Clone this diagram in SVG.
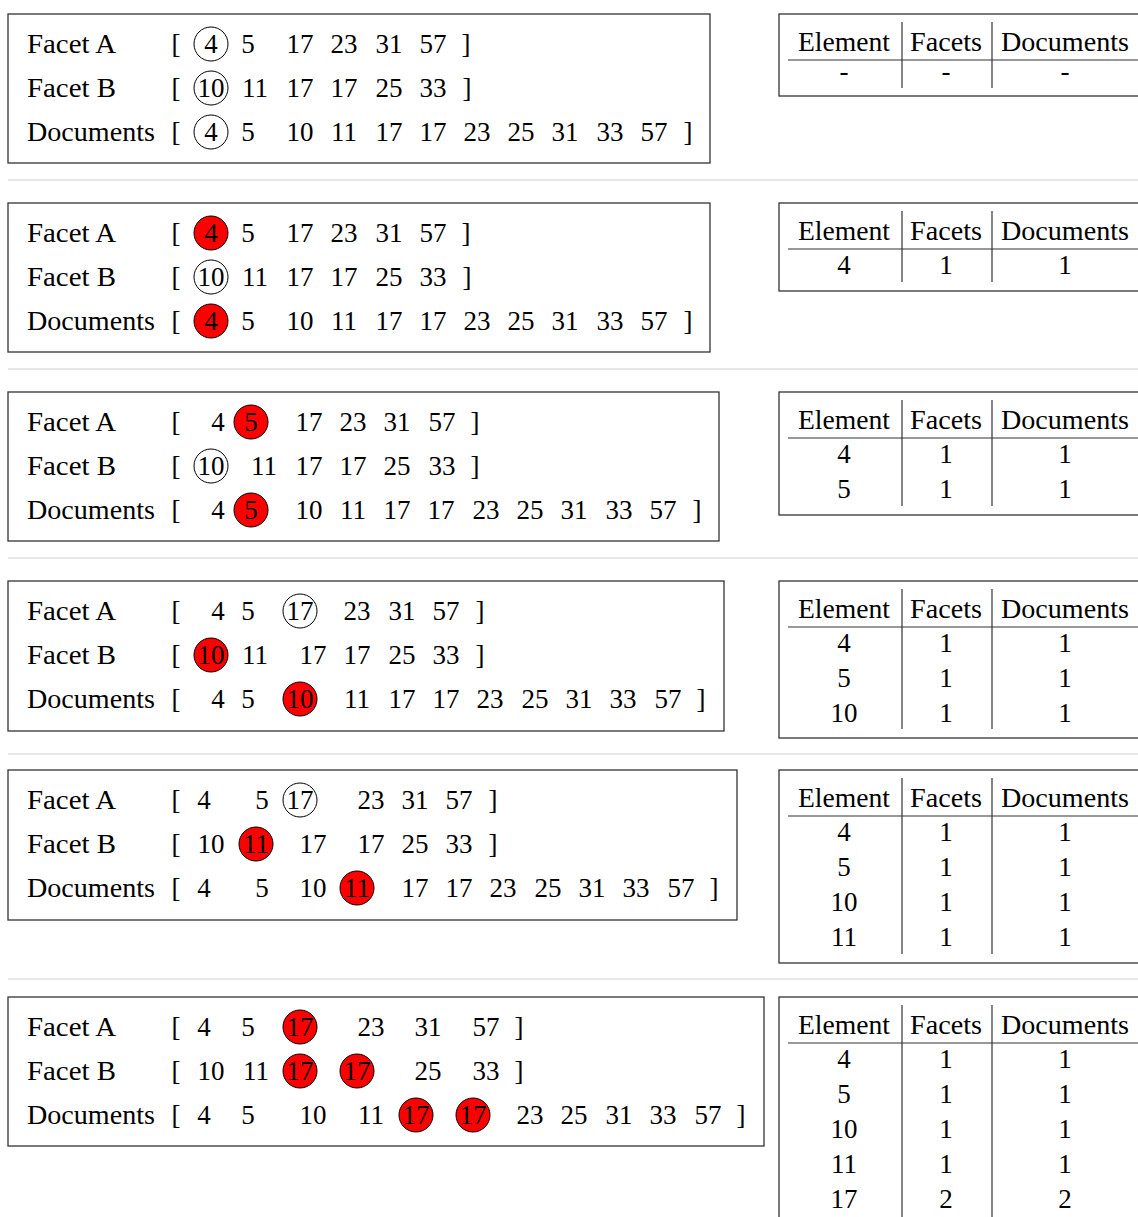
<svg xmlns="http://www.w3.org/2000/svg" width="1138" height="1217" viewBox="0 0 1138 1217">
<style>
text{font-family:"Liberation Serif","Times New Roman",serif;font-size:27px;fill:#000}
.n{text-anchor:middle}
.box{fill:none;stroke:#333;stroke-width:1.3}
.tb{fill:#fff;stroke:#333;stroke-width:1.3}
.c{fill:none;stroke:#000;stroke-width:1}
.r{fill:#f00;stroke:#000;stroke-width:1}
.sep{stroke:#d0d0d0;stroke-width:1.2}
.tl{stroke:#333;stroke-width:1.2;fill:none}
</style>
<rect width="1138" height="1217" fill="#fff"/>
<g id="separators">
<line class="sep" x1="8" y1="180" x2="1138" y2="180"/>
<line class="sep" x1="8" y1="369" x2="1138" y2="369"/>
<line class="sep" x1="8" y1="558" x2="1138" y2="558"/>
<line class="sep" x1="8" y1="754" x2="1138" y2="754"/>
<line class="sep" x1="8" y1="979" x2="1138" y2="979"/>
</g>

<!-- Panel 1 -->
<g id="panel1" transform="translate(0,14)">
<rect class="box" x="8" y="0" width="702" height="149"/>
<ellipse class="c" cx="211" cy="30" rx="17" ry="17"/>
<ellipse class="c" cx="211" cy="74" rx="17" ry="17"/>
<ellipse class="c" cx="211" cy="118" rx="17" ry="17"/>
<text x="27" y="39" textLength="89" lengthAdjust="spacingAndGlyphs">Facet A</text>
<text x="27" y="83" textLength="89" lengthAdjust="spacingAndGlyphs">Facet B</text>
<text x="27" y="127" textLength="128" lengthAdjust="spacingAndGlyphs">Documents</text>
<g class="n">
<text x="176" y="39">[</text><text x="211" y="39">4</text><text x="248" y="39">5</text><text x="300" y="39">17</text><text x="344" y="39">23</text><text x="389" y="39">31</text><text x="433" y="39">57</text><text x="466" y="39">]</text>
<text x="176" y="83">[</text><text x="211" y="83">10</text><text x="255" y="83">11</text><text x="300" y="83">17</text><text x="344" y="83">17</text><text x="389" y="83">25</text><text x="433" y="83">33</text><text x="467" y="83">]</text>
<text x="176" y="127">[</text><text x="211" y="127">4</text><text x="248" y="127">5</text><text x="300" y="127">10</text><text x="344" y="127">11</text><text x="389" y="127">17</text><text x="433" y="127">17</text><text x="477" y="127">23</text><text x="521" y="127">25</text><text x="565" y="127">31</text><text x="610" y="127">33</text><text x="654" y="127">57</text><text x="688" y="127">]</text>
</g>
</g>
<g id="table1" transform="translate(0,14)">
<rect class="tb" x="779" y="0" width="420" height="82"/>
<line class="tl" x1="788" y1="46" x2="1138" y2="46"/>
<line class="tl" x1="902" y1="8" x2="902" y2="74"/>
<line class="tl" x1="992" y1="8" x2="992" y2="74"/>
<g class="n">
<text x="844" y="37" textLength="92" lengthAdjust="spacingAndGlyphs">Element</text><text x="946" y="37" textLength="72" lengthAdjust="spacingAndGlyphs">Facets</text><text x="1065" y="37" textLength="128" lengthAdjust="spacingAndGlyphs">Documents</text>
<text x="844" y="66">-</text><text x="946" y="66">-</text><text x="1065" y="66">-</text>
</g>
</g>

<!-- Panel 2 -->
<g id="panel2" transform="translate(0,203)">
<rect class="box" x="8" y="0" width="702" height="149"/>
<ellipse class="r" cx="211" cy="30" rx="17" ry="17"/>
<ellipse class="c" cx="211" cy="74" rx="17" ry="17"/>
<ellipse class="r" cx="211" cy="118" rx="17" ry="17"/>
<text x="27" y="39" textLength="89" lengthAdjust="spacingAndGlyphs">Facet A</text>
<text x="27" y="83" textLength="89" lengthAdjust="spacingAndGlyphs">Facet B</text>
<text x="27" y="127" textLength="128" lengthAdjust="spacingAndGlyphs">Documents</text>
<g class="n">
<text x="176" y="39">[</text><text x="211" y="39">4</text><text x="248" y="39">5</text><text x="300" y="39">17</text><text x="344" y="39">23</text><text x="389" y="39">31</text><text x="433" y="39">57</text><text x="466" y="39">]</text>
<text x="176" y="83">[</text><text x="211" y="83">10</text><text x="255" y="83">11</text><text x="300" y="83">17</text><text x="344" y="83">17</text><text x="389" y="83">25</text><text x="433" y="83">33</text><text x="467" y="83">]</text>
<text x="176" y="127">[</text><text x="211" y="127">4</text><text x="248" y="127">5</text><text x="300" y="127">10</text><text x="344" y="127">11</text><text x="389" y="127">17</text><text x="433" y="127">17</text><text x="477" y="127">23</text><text x="521" y="127">25</text><text x="565" y="127">31</text><text x="610" y="127">33</text><text x="654" y="127">57</text><text x="688" y="127">]</text>
</g>
</g>
<g id="table2" transform="translate(0,203)">
<rect class="tb" x="779" y="0" width="420" height="88"/>
<line class="tl" x1="788" y1="46" x2="1138" y2="46"/>
<line class="tl" x1="902" y1="8" x2="902" y2="79"/>
<line class="tl" x1="992" y1="8" x2="992" y2="79"/>
<g class="n">
<text x="844" y="37" textLength="92" lengthAdjust="spacingAndGlyphs">Element</text><text x="946" y="37" textLength="72" lengthAdjust="spacingAndGlyphs">Facets</text><text x="1065" y="37" textLength="128" lengthAdjust="spacingAndGlyphs">Documents</text>
<text x="844" y="71">4</text><text x="946" y="71">1</text><text x="1065" y="71">1</text>
</g>
</g>

<!-- Panel 3 -->
<g id="panel3" transform="translate(0,392)">
<rect class="box" x="8" y="0" width="711" height="149"/>
<ellipse class="r" cx="251" cy="30" rx="17" ry="17"/>
<ellipse class="c" cx="211" cy="74" rx="17" ry="17"/>
<ellipse class="r" cx="251" cy="118" rx="17" ry="17"/>
<text x="27" y="39" textLength="89" lengthAdjust="spacingAndGlyphs">Facet A</text>
<text x="27" y="83" textLength="89" lengthAdjust="spacingAndGlyphs">Facet B</text>
<text x="27" y="127" textLength="128" lengthAdjust="spacingAndGlyphs">Documents</text>
<g class="n">
<text x="176" y="39">[</text><text x="218" y="39">4</text><text x="251" y="39">5</text><text x="309" y="39">17</text><text x="353" y="39">23</text><text x="397" y="39">31</text><text x="442" y="39">57</text><text x="475" y="39">]</text>
<text x="176" y="83">[</text><text x="211" y="83">10</text><text x="264" y="83">11</text><text x="309" y="83">17</text><text x="353" y="83">17</text><text x="397" y="83">25</text><text x="442" y="83">33</text><text x="475" y="83">]</text>
<text x="176" y="127">[</text><text x="218" y="127">4</text><text x="251" y="127">5</text><text x="309" y="127">10</text><text x="353" y="127">11</text><text x="397" y="127">17</text><text x="441" y="127">17</text><text x="486" y="127">23</text><text x="530" y="127">25</text><text x="574" y="127">31</text><text x="619" y="127">33</text><text x="663" y="127">57</text><text x="697" y="127">]</text>
</g>
</g>
<g id="table3" transform="translate(0,392)">
<rect class="tb" x="779" y="0" width="420" height="123"/>
<line class="tl" x1="788" y1="46" x2="1138" y2="46"/>
<line class="tl" x1="902" y1="8" x2="902" y2="114"/>
<line class="tl" x1="992" y1="8" x2="992" y2="114"/>
<g class="n">
<text x="844" y="37" textLength="92" lengthAdjust="spacingAndGlyphs">Element</text><text x="946" y="37" textLength="72" lengthAdjust="spacingAndGlyphs">Facets</text><text x="1065" y="37" textLength="128" lengthAdjust="spacingAndGlyphs">Documents</text>
<text x="844" y="71">4</text><text x="946" y="71">1</text><text x="1065" y="71">1</text>
<text x="844" y="106">5</text><text x="946" y="106">1</text><text x="1065" y="106">1</text>
</g>
</g>

<!-- Panel 4 -->
<g id="panel4" transform="translate(0,581)">
<rect class="box" x="8" y="0" width="716" height="150"/>
<ellipse class="c" cx="300" cy="30" rx="17" ry="17"/>
<ellipse class="r" cx="211" cy="74" rx="17" ry="17"/>
<ellipse class="r" cx="300" cy="118" rx="17" ry="17"/>
<text x="27" y="39" textLength="89" lengthAdjust="spacingAndGlyphs">Facet A</text>
<text x="27" y="83" textLength="89" lengthAdjust="spacingAndGlyphs">Facet B</text>
<text x="27" y="127" textLength="128" lengthAdjust="spacingAndGlyphs">Documents</text>
<g class="n">
<text x="176" y="39">[</text><text x="218" y="39">4</text><text x="248" y="39">5</text><text x="300" y="39">17</text><text x="357" y="39">23</text><text x="402" y="39">31</text><text x="446" y="39">57</text><text x="480" y="39">]</text>
<text x="176" y="83">[</text><text x="211" y="83">10</text><text x="255" y="83">11</text><text x="313" y="83">17</text><text x="357" y="83">17</text><text x="402" y="83">25</text><text x="446" y="83">33</text><text x="480" y="83">]</text>
<text x="176" y="127">[</text><text x="218" y="127">4</text><text x="248" y="127">5</text><text x="300" y="127">10</text><text x="357" y="127">11</text><text x="402" y="127">17</text><text x="446" y="127">17</text><text x="490" y="127">23</text><text x="535" y="127">25</text><text x="579" y="127">31</text><text x="623" y="127">33</text><text x="668" y="127">57</text><text x="701" y="127">]</text>
</g>
</g>
<g id="table4" transform="translate(0,581)">
<rect class="tb" x="779" y="0" width="420" height="157"/>
<line class="tl" x1="788" y1="46" x2="1138" y2="46"/>
<line class="tl" x1="902" y1="8" x2="902" y2="148"/>
<line class="tl" x1="992" y1="8" x2="992" y2="148"/>
<g class="n">
<text x="844" y="37" textLength="92" lengthAdjust="spacingAndGlyphs">Element</text><text x="946" y="37" textLength="72" lengthAdjust="spacingAndGlyphs">Facets</text><text x="1065" y="37" textLength="128" lengthAdjust="spacingAndGlyphs">Documents</text>
<text x="844" y="71">4</text><text x="946" y="71">1</text><text x="1065" y="71">1</text>
<text x="844" y="106">5</text><text x="946" y="106">1</text><text x="1065" y="106">1</text>
<text x="844" y="141">10</text><text x="946" y="141">1</text><text x="1065" y="141">1</text>
</g>
</g>

<!-- Panel 5 -->
<g id="panel5" transform="translate(0,770)">
<rect class="box" x="8" y="0" width="729" height="150"/>
<ellipse class="c" cx="300" cy="30" rx="17" ry="17"/>
<ellipse class="r" cx="256" cy="74" rx="17" ry="17"/>
<ellipse class="r" cx="357" cy="118" rx="17" ry="17"/>
<text x="27" y="39" textLength="89" lengthAdjust="spacingAndGlyphs">Facet A</text>
<text x="27" y="83" textLength="89" lengthAdjust="spacingAndGlyphs">Facet B</text>
<text x="27" y="127" textLength="128" lengthAdjust="spacingAndGlyphs">Documents</text>
<g class="n">
<text x="176" y="39">[</text><text x="204" y="39">4</text><text x="262" y="39">5</text><text x="300" y="39">17</text><text x="371" y="39">23</text><text x="415" y="39">31</text><text x="459" y="39">57</text><text x="493" y="39">]</text>
<text x="176" y="83">[</text><text x="211" y="83">10</text><text x="256" y="83">11</text><text x="313" y="83">17</text><text x="371" y="83">17</text><text x="415" y="83">25</text><text x="459" y="83">33</text><text x="493" y="83">]</text>
<text x="176" y="127">[</text><text x="204" y="127">4</text><text x="262" y="127">5</text><text x="313" y="127">10</text><text x="357" y="127">11</text><text x="415" y="127">17</text><text x="459" y="127">17</text><text x="503" y="127">23</text><text x="548" y="127">25</text><text x="592" y="127">31</text><text x="636" y="127">33</text><text x="681" y="127">57</text><text x="714" y="127">]</text>
</g>
</g>
<g id="table5" transform="translate(0,770)">
<rect class="tb" x="779" y="0" width="420" height="193"/>
<line class="tl" x1="788" y1="46" x2="1138" y2="46"/>
<line class="tl" x1="902" y1="8" x2="902" y2="184"/>
<line class="tl" x1="992" y1="8" x2="992" y2="184"/>
<g class="n">
<text x="844" y="37" textLength="92" lengthAdjust="spacingAndGlyphs">Element</text><text x="946" y="37" textLength="72" lengthAdjust="spacingAndGlyphs">Facets</text><text x="1065" y="37" textLength="128" lengthAdjust="spacingAndGlyphs">Documents</text>
<text x="844" y="71">4</text><text x="946" y="71">1</text><text x="1065" y="71">1</text>
<text x="844" y="106">5</text><text x="946" y="106">1</text><text x="1065" y="106">1</text>
<text x="844" y="141">10</text><text x="946" y="141">1</text><text x="1065" y="141">1</text>
<text x="844" y="176">11</text><text x="946" y="176">1</text><text x="1065" y="176">1</text>
</g>
</g>

<!-- Panel 6 -->
<g id="panel6" transform="translate(0,997)">
<rect class="box" x="8" y="0" width="756" height="149"/>
<ellipse class="r" cx="300" cy="30" rx="17" ry="17"/>
<ellipse class="r" cx="300" cy="74" rx="17" ry="17"/>
<ellipse class="r" cx="357" cy="74" rx="17" ry="17"/>
<ellipse class="r" cx="416" cy="118" rx="17" ry="17"/>
<ellipse class="r" cx="473" cy="118" rx="17" ry="17"/>
<text x="27" y="39" textLength="89" lengthAdjust="spacingAndGlyphs">Facet A</text>
<text x="27" y="83" textLength="89" lengthAdjust="spacingAndGlyphs">Facet B</text>
<text x="27" y="127" textLength="128" lengthAdjust="spacingAndGlyphs">Documents</text>
<g class="n">
<text x="176" y="39">[</text><text x="204" y="39">4</text><text x="248" y="39">5</text><text x="300" y="39">17</text><text x="371" y="39">23</text><text x="428" y="39">31</text><text x="486" y="39">57</text><text x="519" y="39">]</text>
<text x="176" y="83">[</text><text x="211" y="83">10</text><text x="256" y="83">11</text><text x="300" y="83">17</text><text x="357" y="83">17</text><text x="428" y="83">25</text><text x="486" y="83">33</text><text x="519" y="83">]</text>
<text x="176" y="127">[</text><text x="204" y="127">4</text><text x="248" y="127">5</text><text x="313" y="127">10</text><text x="371" y="127">11</text><text x="416" y="127">17</text><text x="473" y="127">17</text><text x="530" y="127">23</text><text x="574" y="127">25</text><text x="619" y="127">31</text><text x="663" y="127">33</text><text x="708" y="127">57</text><text x="741" y="127">]</text>
</g>
</g>
<g id="table6" transform="translate(0,997)">
<rect class="tb" x="779" y="0" width="420" height="260"/>
<line class="tl" x1="788" y1="46" x2="1138" y2="46"/>
<line class="tl" x1="902" y1="8" x2="902" y2="220"/>
<line class="tl" x1="992" y1="8" x2="992" y2="220"/>
<g class="n">
<text x="844" y="37" textLength="92" lengthAdjust="spacingAndGlyphs">Element</text><text x="946" y="37" textLength="72" lengthAdjust="spacingAndGlyphs">Facets</text><text x="1065" y="37" textLength="128" lengthAdjust="spacingAndGlyphs">Documents</text>
<text x="844" y="71">4</text><text x="946" y="71">1</text><text x="1065" y="71">1</text>
<text x="844" y="106">5</text><text x="946" y="106">1</text><text x="1065" y="106">1</text>
<text x="844" y="141">10</text><text x="946" y="141">1</text><text x="1065" y="141">1</text>
<text x="844" y="176">11</text><text x="946" y="176">1</text><text x="1065" y="176">1</text>
<text x="844" y="211">17</text><text x="946" y="211">2</text><text x="1065" y="211">2</text>
</g>
</g>
</svg>
